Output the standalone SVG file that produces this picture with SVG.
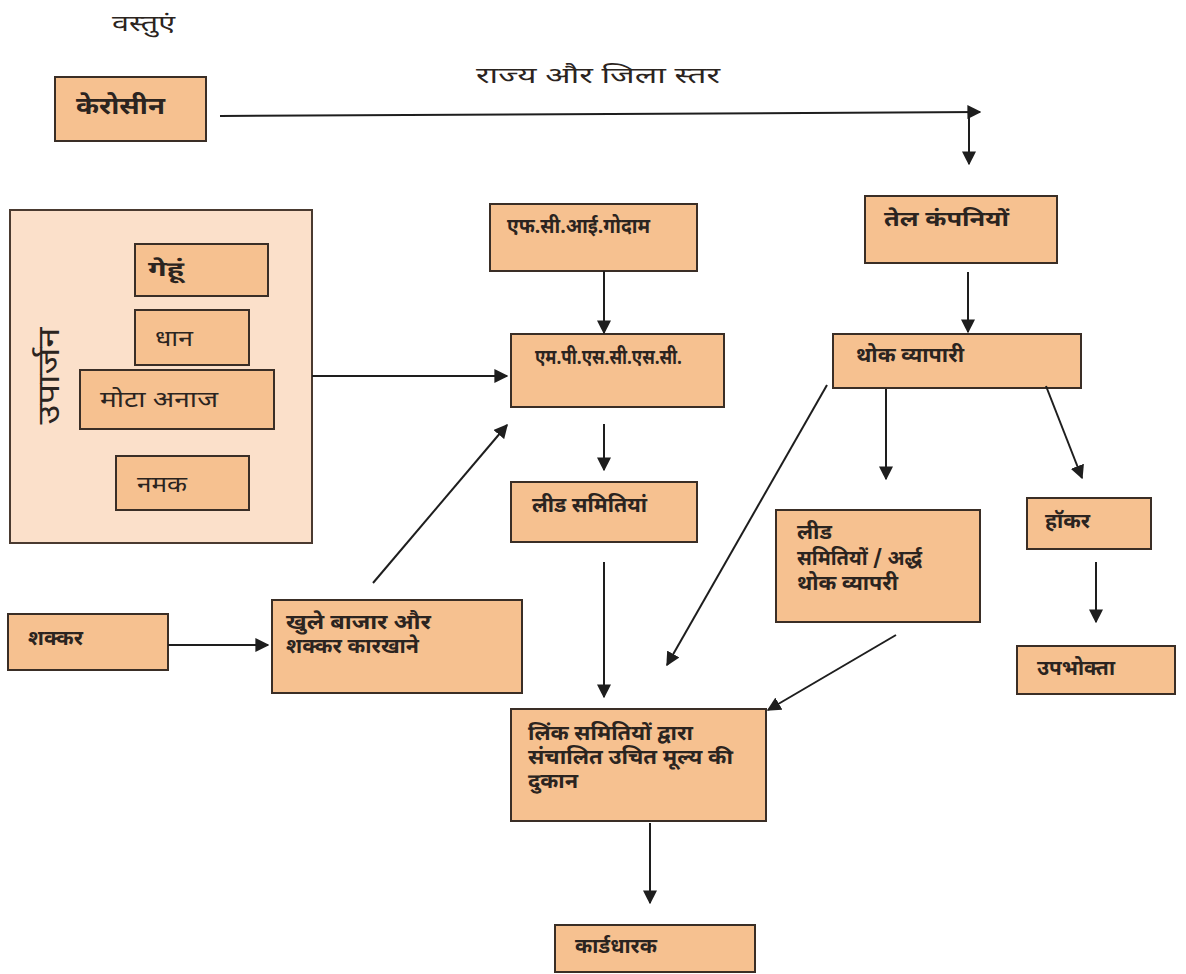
<svg xmlns="http://www.w3.org/2000/svg" width="1186" height="974" viewBox="0 0 1186 974">
<defs>
<style>
.box{fill:#f6c190;stroke:#3a2e26;stroke-width:2}
.outer{fill:#fbe0ca;stroke:#4a3a30;stroke-width:2}
.t{font-family:"Noto Sans Devanagari","Noto Sans","Lohit Devanagari",sans-serif;font-size:20px;font-weight:bold;fill:#2b2420}
.tn{font-family:"Noto Sans Devanagari","Noto Sans","Lohit Devanagari",sans-serif;font-size:22px;fill:#2b2420}
.c{stroke:#1e1e1e;stroke-width:2;fill:none;marker-end:url(#ah)}
</style>
<marker id="ah" viewBox="0 0 10 10" refX="9" refY="5" markerWidth="7" markerHeight="7" markerUnits="strokeWidth" orient="auto">
<path d="M0,0 L10,5 L0,10 z" fill="#1e1e1e"/>
</marker>
</defs>
<rect width="1186" height="974" fill="#ffffff"/>
<text class="tn" x="112" y="31" textLength="63" lengthAdjust="spacingAndGlyphs">वस्तुएं</text>
<text class="tn" x="476" y="83" style="font-size:23px" textLength="244" lengthAdjust="spacingAndGlyphs">राज्य और जिला स्तर</text>

<g id="upaarjan">
<rect class="outer" x="10" y="210" width="302" height="333"/>
<text class="tn" style="font-size:30px" transform="translate(59,376) rotate(-90)" text-anchor="middle" textLength="97" lengthAdjust="spacingAndGlyphs">उपार्जन</text>
</g>
<g id="kerosene"><rect class="box" x="55" y="77" width="151" height="64"/><text class="t" x="76" y="114" style="font-size:24px" textLength="89" lengthAdjust="spacingAndGlyphs">केरोसीन</text></g>
<g id="gehun"><rect class="box" x="135" y="244" width="133" height="52"/><text class="t" x="148" y="276" textLength="36" lengthAdjust="spacingAndGlyphs">गेहूं</text></g>
<g id="dhaan"><rect class="box" x="135" y="310" width="114" height="55"/><text class="tn" x="155" y="346" textLength="38" lengthAdjust="spacingAndGlyphs">धान</text></g>
<g id="mota-anaaj"><rect class="box" x="80" y="370" width="194" height="59"/><text class="tn" x="100" y="407" textLength="118" lengthAdjust="spacingAndGlyphs">मोटा अनाज</text></g>
<g id="namak"><rect class="box" x="116" y="456" width="133" height="54"/><text class="tn" x="137" y="492" textLength="50" lengthAdjust="spacingAndGlyphs">नमक</text></g>
<g id="fci"><rect class="box" x="490" y="204" width="207" height="67"/><text class="t" x="507" y="233" textLength="143" lengthAdjust="spacingAndGlyphs">एफ.सी.आई.गोदाम</text></g>
<g id="mpscsc"><rect class="box" x="511" y="334" width="213" height="73"/><text class="t" x="535" y="364" textLength="147" lengthAdjust="spacingAndGlyphs">एम.पी.एस.सी.एस.सी.</text></g>
<g id="tel-companiyan"><rect class="box" x="865" y="196" width="192" height="67"/><text class="t" x="884" y="226" textLength="125" lengthAdjust="spacingAndGlyphs">तेल कंपनियों</text></g>
<g id="thok-vyapari"><rect class="box" x="833" y="334" width="248" height="54"/><text class="t" x="856" y="362" textLength="108" lengthAdjust="spacingAndGlyphs">थोक व्यापारी</text></g>
<g id="lead-samitiyan"><rect class="box" x="511" y="482" width="186" height="60"/><text class="t" x="532" y="512" textLength="115" lengthAdjust="spacingAndGlyphs">लीड समितियां</text></g>
<g id="lead-ardh"><rect class="box" x="776" y="510" width="204" height="112"/><text class="t" x="797" y="539" textLength="35" lengthAdjust="spacingAndGlyphs">लीड</text><text class="t" x="797" y="565" textLength="125" lengthAdjust="spacingAndGlyphs">समितियों / अर्द्ध</text><text class="t" x="797" y="590" textLength="101" lengthAdjust="spacingAndGlyphs">थोक व्यापरी</text></g>
<g id="hawker"><rect class="box" x="1027" y="498" width="124" height="51"/><text class="t" x="1045" y="528" textLength="45" lengthAdjust="spacingAndGlyphs">हॉकर</text></g>
<g id="upbhokta"><rect class="box" x="1017" y="646" width="158" height="48"/><text class="t" x="1037" y="675" textLength="78" lengthAdjust="spacingAndGlyphs">उपभोक्ता</text></g>
<g id="shakkar"><rect class="box" x="8" y="614" width="160" height="56"/><text class="t" x="28" y="645" textLength="55" lengthAdjust="spacingAndGlyphs">शक्कर</text></g>
<g id="khule-bazaar"><rect class="box" x="272" y="600" width="250" height="93"/><text class="t" x="286" y="629" textLength="145" lengthAdjust="spacingAndGlyphs">खुले बाजार और</text><text class="t" x="286" y="653" textLength="133" lengthAdjust="spacingAndGlyphs">शक्कर कारखाने</text></g>
<g id="link-samiti"><rect class="box" x="511" y="709" width="255" height="112"/><text class="t" x="528" y="740" textLength="165" lengthAdjust="spacingAndGlyphs">लिंक समितियों द्वारा</text><text class="t" x="528" y="764" textLength="205" lengthAdjust="spacingAndGlyphs">संचालित उचित मूल्य की</text><text class="t" x="528" y="788" textLength="50" lengthAdjust="spacingAndGlyphs">दुकान</text></g>
<g id="carddharak"><rect class="box" x="555" y="925" width="200" height="47"/><text class="t" x="575" y="953" textLength="82" lengthAdjust="spacingAndGlyphs">कार्डधारक</text></g>

<g id="connectors">
<line class="c" x1="220" y1="116" x2="980" y2="112"/>
<line class="c" x1="969" y1="113" x2="969" y2="164"/>
<line class="c" x1="312" y1="376" x2="507" y2="376"/>
<line class="c" x1="604" y1="271" x2="604" y2="333"/>
<line class="c" x1="968" y1="272" x2="968" y2="332"/>
<line class="c" x1="604" y1="424" x2="604" y2="470"/>
<line class="c" x1="373" y1="583" x2="507" y2="425"/>
<line class="c" x1="827" y1="385" x2="667" y2="665"/>
<line class="c" x1="886" y1="389" x2="886" y2="479"/>
<line class="c" x1="1046" y1="386" x2="1082" y2="478"/>
<line class="c" x1="1096" y1="562" x2="1096" y2="622"/>
<line class="c" x1="168" y1="645" x2="268" y2="645"/>
<line class="c" x1="604" y1="562" x2="604" y2="697"/>
<line class="c" x1="896" y1="635" x2="768" y2="710"/>
<line class="c" x1="650" y1="823" x2="650" y2="903"/>
</g>
</svg>
